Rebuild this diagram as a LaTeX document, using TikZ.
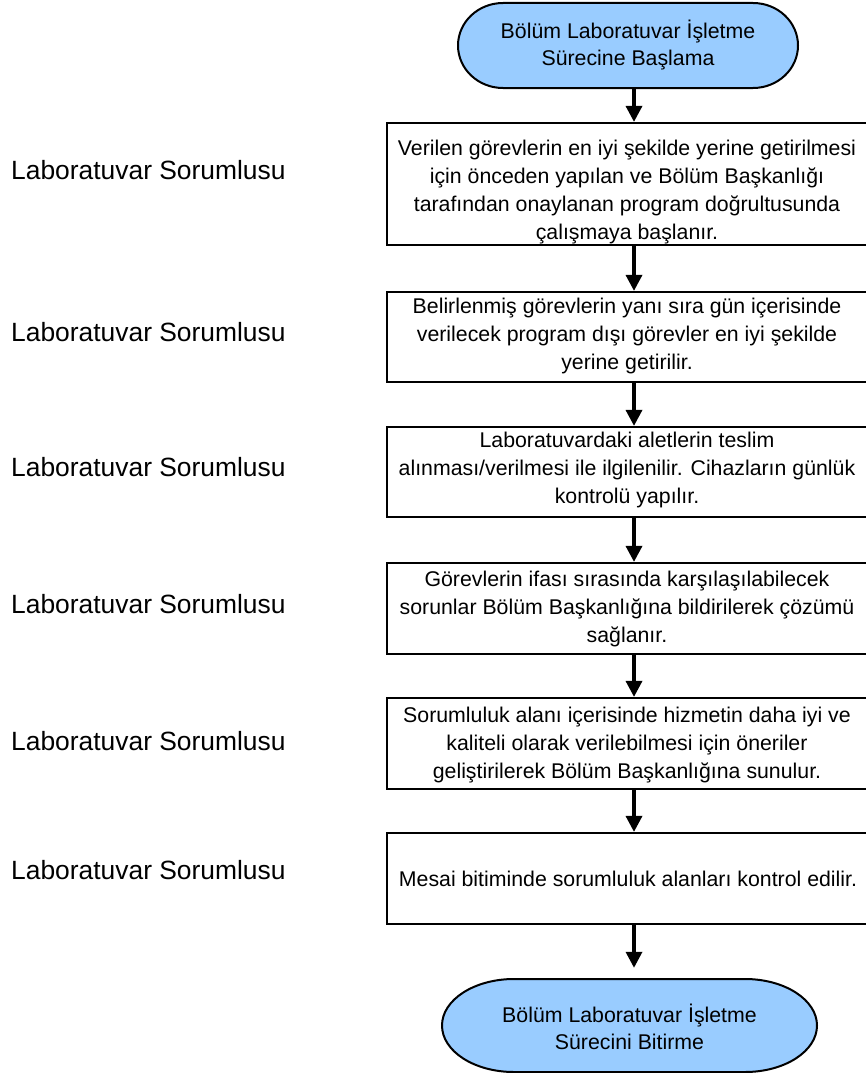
\documentclass[tikz,border=0pt]{standalone}
\usepackage{fontspec}
\setmainfont{Liberation Sans}
\usetikzlibrary{arrows.meta}
\definecolor{termblue}{RGB}{153,204,255}
\begin{document}
\begin{tikzpicture}[x=1pt,y=-1pt,
  box/.style={draw, line width=2.2pt, rectangle, inner sep=0pt, minimum width=481pt},
  boxtext/.style={align=center, inner sep=0pt, font=\fontsize{21.3}{28}\selectfont},
  role/.style={anchor=west, inner sep=0pt, font=\fontsize{26.4}{30}\selectfont},
  term/.style={draw=none, inner sep=0pt, align=center, font=\fontsize{21.3}{27}\selectfont},
  termshape/.style={draw, line width=2pt, fill=termblue},
  arr/.style={line width=3.4pt, -{Triangle[width=16pt,length=16pt]}}
]
\useasboundingbox (0,0) rectangle (866,1073);
\coordinate (col) at (634,0);

% start terminal
\draw[termshape] (503,3) -- (753,3) arc[start angle=-90,end angle=90,x radius=45,y radius=42.5] -- (503,88) arc[start angle=90,end angle=270,x radius=45,y radius=42.5] -- cycle;
\node[term, minimum width=340pt, minimum height=85pt] (t1) at (628,45.5) {Bölüm Laboratuvar İşletme\\Sürecine Başlama};

% process boxes
\node[box, minimum height=122pt] (b1) at (627.5,184) {};
\node[boxtext] (b1t) at (627,192.5) {Verilen görevlerin en iyi şekilde yerine getirilmesi\\için önceden yapılan ve Bölüm Başkanlığı\\tarafından onaylanan program doğrultusunda\\çalışmaya başlanır.};

\node[box, minimum height=90pt] (b2) at (627.5,337) {};
\node[boxtext] (b2t) at (627,336) {Belirlenmiş görevlerin yanı sıra gün içerisinde\\verilecek program dışı görevler en iyi şekilde\\yerine getirilir.};

\node[box, minimum height=90pt] (b3) at (627.5,472) {};
\node[boxtext] (b3t) at (627,470) {Laboratuvardaki aletlerin teslim\\alınması/verilmesi ile ilgilenilir. Cihazların günlük\\kontrolü yapılır.};

\node[box, minimum height=91pt] (b4) at (627.5,608.5) {};
\node[boxtext] (b4t) at (627,609) {Görevlerin ifası sırasında karşılaşılabilecek\\sorunlar Bölüm Başkanlığına bildirilerek çözümü\\sağlanır.};

\node[box, minimum height=91pt] (b5) at (627.5,743.5) {};
\node[boxtext] (b5t) at (627,745) {Sorumluluk alanı içerisinde hizmetin daha iyi ve\\kaliteli olarak verilebilmesi için öneriler\\geliştirilerek Bölüm Başkanlığına sunulur.};

\node[box, minimum height=91pt] (b6) at (627.5,878.5) {};
\node[boxtext] (b6t) at (628,879) {Mesai bitiminde sorumluluk alanları kontrol edilir.};

% end terminal
\draw[termshape] (514,979) -- (745,979) arc[start angle=-90,end angle=90,x radius=72,y radius=46.5] -- (514,1072) arc[start angle=90,end angle=270,x radius=72,y radius=46.5] -- cycle;
\node[term, minimum width=375pt, minimum height=93pt] (t2) at (629.5,1026.5) {Bölüm Laboratuvar İşletme\\Sürecini Bitirme};

% role labels
\node[role] (r1) at (11,170) {Laboratuvar Sorumlusu};
\node[role] (r2) at (11,332) {Laboratuvar Sorumlusu};
\node[role] (r3) at (11,467) {Laboratuvar Sorumlusu};
\node[role] (r4) at (11,604) {Laboratuvar Sorumlusu};
\node[role] (r5) at (11,741) {Laboratuvar Sorumlusu};
\node[role] (r6) at (11,870) {Laboratuvar Sorumlusu};

% arrows
\draw[arr] (t1.south -| col) -- (b1.north -| col);
\draw[arr] (b1.south -| col) -- (b2.north -| col);
\draw[arr] (b2.south -| col) -- (b3.north -| col);
\draw[arr] (b3.south -| col) -- (b4.north -| col);
\draw[arr] (b4.south -| col) -- (b5.north -| col);
\draw[arr] (b5.south -| col) -- (b6.north -| col);
\draw[arr, shorten >=12pt] (b6.south -| col) -- (t2.north -| col);
\end{tikzpicture}
\end{document}
